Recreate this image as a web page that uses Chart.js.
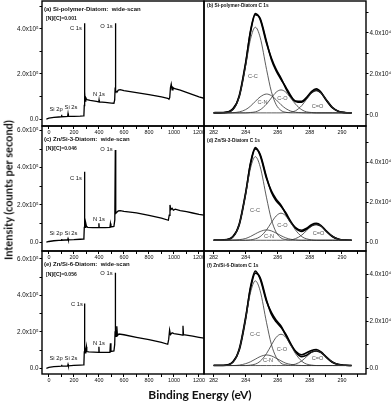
<!DOCTYPE html>
<html>
<head>
<meta charset="utf-8">
<script src="https://cdn.jsdelivr.net/npm/chart.js@4.4.1/dist/chart.umd.min.js"></script>
<style>
  html, body { margin: 0; padding: 0; background: #fff; }
  #fig { position: relative; width: 392px; height: 401px; overflow: hidden; }
  #fig canvas { position: absolute; }
  .ttl { position: absolute; font-family: Lato, "Open Sans", sans-serif; font-weight: bold; color: #111; white-space: nowrap; }
  #ylab { left: 8px; top: 190px; font-size: 11px; transform: translate(-50%, -50%) rotate(-90deg); }
  #xlab { left: 200px; top: 394px; font-size: 12px; transform: translate(-50%, -50%); }
</style>
</head>
<body>
<div id="fig">
  <canvas id="p-a"></canvas>
  <canvas id="p-b"></canvas>
  <canvas id="p-c"></canvas>
  <canvas id="p-d"></canvas>
  <canvas id="p-e"></canvas>
  <canvas id="p-f"></canvas>
  <div class="ttl" id="ylab">Intensity (counts per second)</div>
  <div class="ttl" id="xlab">Binding Energy (eV)</div>
</div>
<script>
/* ── XPS wide scans (left) + C 1s fits (right) ─────────── */

// wide scans: [binding energy (eV), counts per second / 1e5]
const WIDE_A = [
  [-20, 0.00], [0, 0.04], [40, 0.07], [80, 0.09], [98, 0.10], [101, 0.19], [104, 0.10],
  [130, 0.11], [150, 0.12], [153, 0.24], [156, 0.12], [200, 0.12], [250, 0.13], [275, 0.14],
  [280, 0.18], [283, 0.60], [285, 4.25], [287, 1.20], [290, 0.80], [295, 0.95], [300, 0.90],
  [305, 0.86], [330, 0.83], [380, 0.78], [399, 0.76], [401, 0.84], [403, 0.76], [450, 0.74],
  [500, 0.71], [520, 0.70], [526, 0.85], [529, 1.30], [531, 4.25], [533, 1.70], [536, 1.25],
  [545, 1.20], [555, 1.28], [570, 1.30], [600, 1.26], [700, 1.17], [800, 1.08], [900, 0.98],
  [950, 0.92], [960, 0.88], [966, 0.95], [972, 1.40], [978, 1.55], [985, 1.30], [992, 1.40],
  [1000, 1.36], [1050, 1.28], [1100, 1.18], [1150, 1.08], [1200, 0.98], [1240, 0.92],
];
const WIDE_C = [
  [-20, 0.00], [0, 0.04], [40, 0.08], [80, 0.10], [98, 0.11], [101, 0.18], [104, 0.11],
  [130, 0.12], [150, 0.13], [153, 0.20], [156, 0.13], [200, 0.14], [250, 0.16], [275, 0.17],
  [280, 0.22], [283, 0.80], [285, 3.79], [287, 1.10], [290, 0.80], [295, 1.02], [300, 0.86],
  [310, 0.80], [350, 0.79], [398, 0.78], [400, 1.02], [402, 0.78], [450, 0.78], [488, 0.80],
  [492, 1.00], [496, 0.82], [520, 0.85], [527, 1.20], [531, 4.95], [533, 1.90], [536, 1.55],
  [545, 1.62], [555, 1.68], [570, 1.70], [600, 1.66], [700, 1.58], [800, 1.44], [900, 1.30],
  [955, 1.18], [962, 1.45], [968, 2.00], [975, 1.75], [985, 1.82], [995, 1.72], [1010, 1.78],
  [1050, 1.70], [1100, 1.64], [1150, 1.57], [1200, 1.50], [1240, 1.46],
];
const WIDE_E = [
  [-20, 0.00], [0, 0.05], [40, 0.09], [80, 0.11], [98, 0.12], [101, 0.20], [104, 0.12],
  [150, 0.14], [153, 0.22], [156, 0.14], [200, 0.16], [250, 0.18], [275, 0.19], [280, 0.25],
  [283, 0.90], [285, 3.56], [287, 1.20], [290, 0.85], [295, 0.95], [300, 1.18], [303, 0.92],
  [320, 0.90], [398, 0.88], [400, 1.18], [402, 0.88], [450, 0.87], [488, 0.88], [492, 1.37],
  [496, 0.92], [520, 0.95], [526, 1.30], [529, 2.00], [531, 5.24], [533, 2.10], [538, 1.75],
  [543, 2.30], [548, 1.80], [560, 1.88], [600, 1.84], [700, 1.70], [800, 1.57], [900, 1.42],
  [950, 1.32], [958, 1.60], [965, 2.10], [972, 1.85], [985, 1.95], [1000, 1.90], [1050, 1.85],
  [1068, 1.82], [1072, 2.33], [1076, 1.84], [1100, 1.82], [1150, 1.76], [1200, 1.70], [1240, 1.65],
];

// C 1s energy grid (eV); intensities in counts per second / 1e4
const C1S_E = [282.0, 282.6, 283.2, 283.6, 284.0, 284.3, 284.6, 284.9, 285.3, 285.6, 285.9, 286.2,
  286.5, 286.8, 287.1, 287.5, 287.8, 288.1, 288.4, 288.7, 289.0, 289.4, 289.8, 290.2, 290.6];

const B_RAW = [0.11, 0.12, 0.30, 0.90, 2.50, 4.10, 4.95, 4.66, 3.50, 2.78, 2.22, 1.80, 1.30, 0.90, 0.68, 0.66, 0.86, 1.14, 1.27, 1.10, 0.74, 0.35, 0.17, 0.12, 0.10];
const B_FIT = [0.10, 0.11, 0.27, 0.95, 2.57, 4.05, 4.89, 4.72, 3.57, 2.71, 2.15, 1.74, 1.36, 0.95, 0.66, 0.62, 0.82, 1.09, 1.20, 1.07, 0.77, 0.37, 0.17, 0.11, 0.10];
const B_CC = [0.10, 0.11, 0.26, 0.90, 2.41, 3.70, 4.28, 3.79, 2.22, 1.14, 0.50, 0.22, 0.13, 0.10, 0.10, 0.10, 0.10, 0.10, 0.10, 0.10, 0.10, 0.10, 0.10, 0.10, 0.10];
const B_CN = [0.10, 0.10, 0.11, 0.15, 0.26, 0.43, 0.66, 0.88, 1.02, 0.94, 0.74, 0.50, 0.31, 0.19, 0.13, 0.11, 0.10, 0.10, 0.10, 0.10, 0.10, 0.10, 0.10, 0.10, 0.10];
const B_CO = [0.10, 0.10, 0.10, 0.10, 0.10, 0.12, 0.15, 0.25, 0.53, 0.83, 1.11, 1.22, 1.11, 0.83, 0.53, 0.25, 0.15, 0.12, 0.10, 0.10, 0.10, 0.10, 0.10, 0.10, 0.10];
const B_CdO = [0.10, 0.10, 0.10, 0.10, 0.10, 0.10, 0.10, 0.10, 0.10, 0.10, 0.10, 0.10, 0.11, 0.13, 0.20, 0.46, 0.77, 1.07, 1.20, 1.07, 0.77, 0.37, 0.17, 0.11, 0.10];

const D_RAW = [0.11, 0.12, 0.29, 0.88, 2.45, 3.98, 4.76, 4.36, 3.20, 2.58, 2.16, 1.86, 1.42, 1.01, 0.74, 0.60, 0.71, 0.88, 0.95, 0.84, 0.57, 0.29, 0.15, 0.11, 0.10];
const D_FIT = [0.10, 0.11, 0.27, 0.93, 2.51, 3.93, 4.69, 4.42, 3.27, 2.51, 2.08, 1.81, 1.48, 1.06, 0.72, 0.54, 0.66, 0.83, 0.90, 0.81, 0.59, 0.30, 0.15, 0.11, 0.10];
const D_CC = [0.10, 0.11, 0.26, 0.90, 2.42, 3.72, 4.30, 3.80, 2.23, 1.15, 0.50, 0.22, 0.13, 0.10, 0.10, 0.10, 0.10, 0.10, 0.10, 0.10, 0.10, 0.10, 0.10, 0.10, 0.10];
const D_CN = [0.10, 0.10, 0.11, 0.13, 0.19, 0.29, 0.42, 0.54, 0.62, 0.57, 0.46, 0.33, 0.22, 0.15, 0.12, 0.10, 0.10, 0.10, 0.10, 0.10, 0.10, 0.10, 0.10, 0.10, 0.10];
const D_CO = [0.10, 0.10, 0.10, 0.10, 0.10, 0.12, 0.17, 0.28, 0.62, 0.99, 1.32, 1.46, 1.32, 0.99, 0.62, 0.28, 0.17, 0.12, 0.10, 0.10, 0.10, 0.10, 0.10, 0.10, 0.10];
const D_CdO = [0.10, 0.10, 0.10, 0.10, 0.10, 0.10, 0.10, 0.10, 0.10, 0.10, 0.10, 0.10, 0.11, 0.12, 0.18, 0.36, 0.59, 0.81, 0.90, 0.81, 0.59, 0.30, 0.15, 0.11, 0.10];

const F_RAW = [0.13, 0.13, 0.28, 0.78, 2.12, 3.46, 4.14, 3.80, 2.84, 2.38, 2.05, 1.80, 1.40, 1.02, 0.74, 0.58, 0.66, 0.76, 0.80, 0.70, 0.49, 0.26, 0.16, 0.13, 0.12];
const F_FIT = [0.12, 0.12, 0.26, 0.83, 2.19, 3.40, 4.05, 3.86, 2.90, 2.30, 1.98, 1.75, 1.45, 1.06, 0.71, 0.50, 0.56, 0.69, 0.74, 0.67, 0.50, 0.27, 0.16, 0.13, 0.12];
const F_CC = [0.12, 0.12, 0.26, 0.81, 2.11, 3.22, 3.72, 3.30, 1.94, 1.02, 0.47, 0.22, 0.15, 0.12, 0.12, 0.12, 0.12, 0.12, 0.12, 0.12, 0.12, 0.12, 0.12, 0.12, 0.12];
const F_CN = [0.12, 0.12, 0.12, 0.14, 0.20, 0.28, 0.39, 0.50, 0.57, 0.53, 0.43, 0.32, 0.22, 0.17, 0.14, 0.12, 0.12, 0.12, 0.12, 0.12, 0.12, 0.12, 0.12, 0.12, 0.12];
const F_CO = [0.12, 0.12, 0.12, 0.12, 0.12, 0.14, 0.18, 0.30, 0.63, 0.99, 1.32, 1.45, 1.32, 0.99, 0.63, 0.30, 0.18, 0.14, 0.12, 0.12, 0.12, 0.12, 0.12, 0.12, 0.12];
const F_CdO = [0.12, 0.12, 0.12, 0.12, 0.12, 0.12, 0.12, 0.12, 0.12, 0.12, 0.12, 0.12, 0.12, 0.14, 0.18, 0.32, 0.50, 0.67, 0.74, 0.67, 0.50, 0.27, 0.16, 0.13, 0.12];

// tick positions (labels only on every second one)
const WIDE_TICKS = [0, 100, 200, 300, 400, 500, 600, 700, 800, 900, 1000, 1100, 1200];
const C1S_TICKS = [282, 283, 284, 285, 286, 287, 288, 289, 290, 291];
const Y_TICKS = [0, 1, 2, 3, 4, 5, 6];

// text inside panels: [text, x (eV), y (data units), align, kind]
const NOTES_A = [
  ["(a) Si-polymer-Diatom:  wide-scan", -39, 4.88, "left", "title"],
  ["[N]/[C]=0.001", -23, 4.44, "left", "ratio"],
  ["C 1s", 217, 4.04], ["O 1s", 460, 4.13], ["N 1s", 400, 1.11],
  ["Si 2p", 57, 0.44], ["Si 2s", 177, 0.53],
];
const NOTES_C = [
  ["(c) Zn/Si-3-Diatom:  wide-scan", -39, 5.51, "left", "title"],
  ["[N]/[C]=0.046", -23, 5.0, "left", "ratio"],
  ["O 1s", 460, 5.0], ["C 1s", 217, 3.45], ["N 1s", 400, 1.25],
  ["Si 2p", 57, 0.5], ["Si 2s", 177, 0.5],
];
const NOTES_E = [
  ["(e) Zn/Si-6-Diatom:  wide-scan", -39, 5.72, "left", "title"],
  ["[N]/[C]=0.056", -23, 5.11, "left", "ratio"],
  ["O 1s", 460, 5.22], ["C 1s", 225, 3.52], ["N 1s", 400, 1.39],
  ["Si 2p", 57, 0.56], ["Si 2s", 177, 0.56],
];
const NOTES_B = [
  ["(b) Si-polymer-Diatom C 1s", 281.59, 5.32, "left", "subtitle"],
  ["C-C", 284.45, 1.9, "center", "comp"], ["C-N", 285.05, 0.59, "center", "comp"],
  ["C-O", 286.29, 0.78, "center", "comp"], ["C=O", 288.48, 0.39, "center", "comp"],
];
const NOTES_D = [
  ["(d) Zn/Si-3-Diatom C 1s", 281.59, 5.09, "left", "subtitle"],
  ["C-C", 284.58, 1.62, "center", "comp"], ["C-O", 286.29, 0.82, "center", "comp"],
  ["C-N", 285.45, 0.27, "center", "comp"], ["C=O", 288.54, 0.42, "center", "comp"],
];
const NOTES_F = [
  ["(f) Zn/Si-6-Diatom C 1s", 281.59, 4.35, "left", "subtitle"],
  ["C-C", 284.58, 1.46, "center", "comp"], ["C-O", 286.26, 0.82, "center", "comp"],
  ["C-N", 285.39, 0.35, "center", "comp"], ["C=O", 288.48, 0.44, "center", "comp"],
];

const ROWS = [[1, 126], [126, 251], [251, 374]];
const FONT = '"Liberation Sans", Arial, sans-serif';
const NOTE_STYLE = {
  title: { font: `bold 6px ${FONT}`, color: "#111" },
  subtitle: { font: `bold 4.8px ${FONT}`, color: "#111" },
  ratio: { font: `bold 5px ${FONT}`, color: "#111" },
  peak: { font: `5.8px ${FONT}`, color: "#111" },
  comp: { font: `5.6px ${FONT}`, color: "#555" },
};

const framePlugin = {
  id: "frame",
  afterDatasetsDraw(chart) {
    const { ctx, chartArea: a } = chart;
    ctx.save();
    ctx.strokeStyle = "#000";
    ctx.lineWidth = 1.4;
    ctx.strokeRect(a.left, a.top, a.right - a.left, a.bottom - a.top);
    ctx.restore();
  },
};

function notesPlugin(items) {
  return {
    id: "notes",
    afterDatasetsDraw(chart) {
      const { ctx, scales } = chart;
      ctx.save();
      ctx.textBaseline = "middle";
      for (const [text, vx, vy, align = "center", kind = "peak"] of items) {
        ctx.font = NOTE_STYLE[kind].font;
        ctx.fillStyle = NOTE_STYLE[kind].color;
        ctx.textAlign = align;
        ctx.fillText(text, scales.x.getPixelForValue(vx), scales.y.getPixelForValue(vy));
      }
      ctx.restore();
    },
  };
}

const wideLine = (pts) => ({
  data: pts.map(([x, y]) => ({ x, y })),
  borderColor: "#000",
  borderWidth: 1.3,
  tension: 0,
});

const c1sLine = (vals, thick) => ({
  data: C1S_E.map((x, i) => ({ x, y: vals[i] })),
  borderColor: thick ? "#000" : "#333",
  borderWidth: thick ? 1.6 : 0.8,
  cubicInterpolationMode: "monotone",
});

function panel(id, side, row, xr, yr, expo, datasets, notes) {
  const [top, bottom] = ROWS[row];
  const left = side === "left";
  const canvas = document.getElementById(id);
  canvas.width = left ? 212 : 196;
  canvas.height = bottom - top + 4 + 16;
  canvas.style.left = (left ? 0 : 196) + "px";
  canvas.style.top = top - 4 + "px";

  const xTicks = left ? WIDE_TICKS : C1S_TICKS;
  const xMajor = left ? 200 : 2;
  const yTicks = Y_TICKS.filter((v) => v <= yr[1]);

  new Chart(canvas, {
    type: "line",
    data: { datasets },
    options: {
      responsive: false,
      animation: false,
      events: [],
      layout: {
        padding: left
          ? { top: 4, right: 8, left: 0, bottom: 0 }
          : { top: 4, left: 8, right: 0, bottom: 0 },
      },
      elements: { point: { radius: 0 } },
      plugins: { legend: { display: false }, tooltip: { enabled: false } },
      scales: {
        x: {
          type: "linear",
          min: xr[0],
          max: xr[1],
          afterBuildTicks: (s) => {
            s.ticks = xTicks.map((value) => ({ value }));
          },
          afterFit: (s) => {
            s.height = 16;
            s.paddingLeft = 0;
            s.paddingRight = 0;
          },
          border: { display: false },
          grid: { drawOnChartArea: false, tickLength: 3, color: "#000" },
          ticks: {
            autoSkip: false,
            maxRotation: 0,
            padding: 0,
            color: "#111",
            font: { family: FONT, size: 5.4 },
            callback: (v) => (v % xMajor === 0 ? String(v) : ""),
          },
        },
        y: {
          position: side,
          min: yr[0],
          max: yr[1],
          afterBuildTicks: (s) => {
            s.ticks = yTicks.map((value) => ({ value }));
          },
          afterFit: (s) => {
            s.width = left ? 42 : 26;
            s.paddingTop = 0;
            s.paddingBottom = 0;
          },
          border: { display: false },
          grid: { drawOnChartArea: false, tickLength: 2.5, color: "#000" },
          ticks: {
            autoSkip: false,
            padding: 1,
            color: "#111",
            font: { family: FONT, size: 6.3 },
            callback: (v) =>
              v === 0 ? "0.0" : v % 2 === 0 ? v.toFixed(1) + "x10" + expo : "",
          },
        },
      },
    },
    plugins: [framePlugin, notesPlugin(notes)],
  });
}

const WIDE_X = [-55, 1240];
const C1S_X = [281.4, 291.5];

panel("p-a", "left", 0, WIDE_X, [-0.31, 5.24], "\u2075", [wideLine(WIDE_A)], NOTES_A);
panel("p-c", "left", 1, WIDE_X, [-0.47, 6.24], "\u2075", [wideLine(WIDE_C)], NOTES_C);
panel("p-e", "left", 2, WIDE_X, [-0.31, 6.43], "\u2075", [wideLine(WIDE_E)], NOTES_E);

panel("p-b", "right", 0, C1S_X, [-0.54, 5.56], "\u2074", [
  c1sLine(B_CC), c1sLine(B_CN), c1sLine(B_CO), c1sLine(B_CdO),
  c1sLine(B_FIT, true), c1sLine(B_RAW, true),
], NOTES_B);
panel("p-d", "right", 1, C1S_X, [-0.44, 5.84], "\u2074", [
  c1sLine(D_CC), c1sLine(D_CN), c1sLine(D_CO), c1sLine(D_CdO),
  c1sLine(D_FIT, true), c1sLine(D_RAW, true),
], NOTES_D);
panel("p-f", "right", 2, C1S_X, [-0.24, 4.99], "\u2074", [
  c1sLine(F_CC), c1sLine(F_CN), c1sLine(F_CO), c1sLine(F_CdO),
  c1sLine(F_FIT, true), c1sLine(F_RAW, true),
], NOTES_F);
</script>
</body>
</html>
